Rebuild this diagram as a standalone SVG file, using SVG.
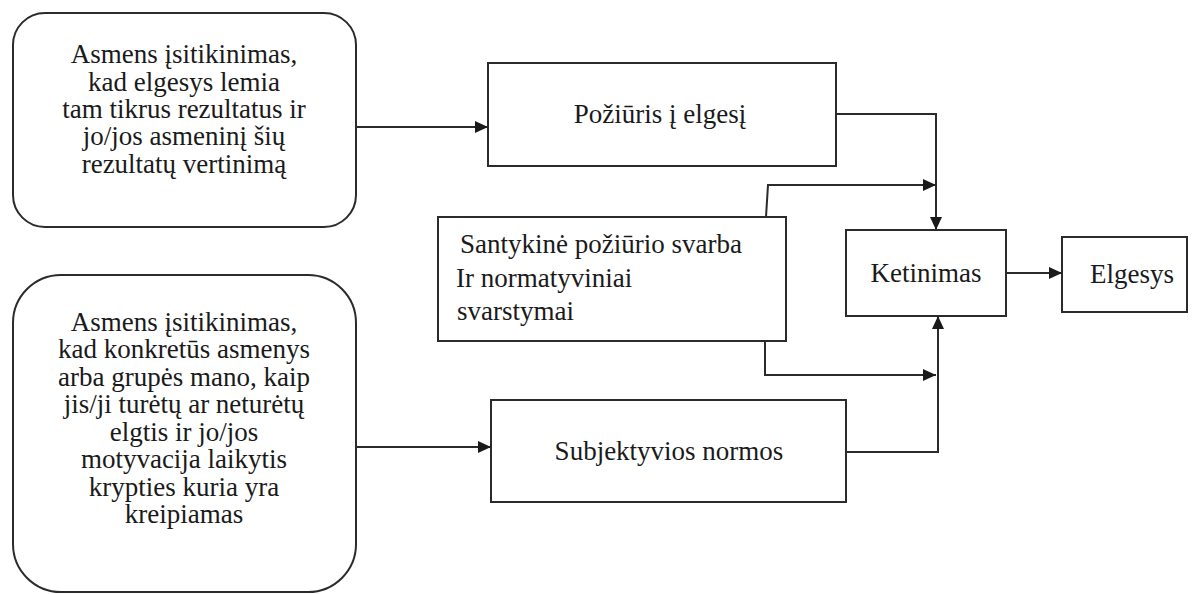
<svg xmlns="http://www.w3.org/2000/svg" width="1197" height="594" viewBox="0 0 1197 594">
  <style>
    .box { fill: #ffffff; stroke: #2b2b2b; stroke-width: 2; }
    .lbl { font-size: 27px; fill: #1a1a1a; }
    .mid { text-anchor: middle; }
    .wire { fill: none; stroke: #2b2b2b; stroke-width: 2; }
  </style>
  <defs>
    <marker id="arrow" markerWidth="14" markerHeight="12" refX="13" refY="6" orient="auto" markerUnits="userSpaceOnUse">
      <path d="M0,0 L13,6 L0,12 z" fill="#1a1a1a"/>
    </marker>
  </defs>
  <rect width="1197" height="594" fill="#ffffff"/>

  <g font-family="Liberation Serif, Tinos, DejaVu Serif, serif">
  <g id="belief-outcomes">
    <rect class="box" x="13" y="13" width="343" height="214" rx="32" ry="32"/>
    <text class="lbl mid" x="184" y="63">Asmens įsitikinimas,</text>
    <text class="lbl mid" x="184" y="91">kad elgesys lemia</text>
    <text class="lbl mid" x="184" y="118">tam tikrus rezultatus ir</text>
    <text class="lbl mid" x="184" y="145">jo/jos asmeninį šių</text>
    <text class="lbl mid" x="184" y="173">rezultatų vertinimą</text>
  </g>

  <g id="belief-referents">
    <rect class="box" x="13" y="275" width="343" height="317" rx="48" ry="48"/>
    <text class="lbl mid" x="184" y="331">Asmens įsitikinimas,</text>
    <text class="lbl mid" x="184" y="358">kad konkretūs asmenys</text>
    <text class="lbl mid" x="184" y="386">arba grupės mano, kaip</text>
    <text class="lbl mid" x="184" y="413">jis/ji turėtų ar neturėtų</text>
    <text class="lbl mid" x="184" y="441">elgtis ir jo/jos</text>
    <text class="lbl mid" x="184" y="468">motyvacija laikytis</text>
    <text class="lbl mid" x="184" y="496">krypties kuria yra</text>
    <text class="lbl mid" x="184" y="523">kreipiamas</text>
  </g>

  <g id="attitude">
    <rect class="box" x="488" y="63" width="348" height="103"/>
    <text class="lbl mid" x="660" y="123">Požiūris į elgesį</text>
  </g>

  <g id="weights">
    <rect class="box" x="438" y="217" width="348" height="124"/>
    <text class="lbl" x="460" y="253">Santykinė požiūrio svarba</text>
    <text class="lbl" x="456" y="287">Ir normatyviniai</text>
    <text class="lbl" x="457" y="320">svarstymai</text>
  </g>

  <g id="subjective-norms">
    <rect class="box" x="491" y="400" width="355" height="102"/>
    <text class="lbl mid" x="669" y="460">Subjektyvios normos</text>
  </g>

  <g id="intention">
    <rect class="box" x="846" y="230" width="160" height="86"/>
    <text class="lbl mid" x="926" y="282">Ketinimas</text>
  </g>

  <g id="behaviour">
    <rect class="box" x="1062" y="237" width="125" height="75"/>
    <text class="lbl mid" x="1132" y="283">Elgesys</text>
  </g>
  </g>

  <g id="connectors">
    <path class="wire" d="M356,127 L488,127" marker-end="url(#arrow)"/>
    <path class="wire" d="M356,447 L491,447" marker-end="url(#arrow)"/>
    <path class="wire" d="M836,114 L936,114 L936,230" marker-end="url(#arrow)"/>
    <path class="wire" d="M766,217 L768,185 L936,185" marker-end="url(#arrow)"/>
    <path class="wire" d="M765,341 L765,375 L936,375" marker-end="url(#arrow)"/>
    <path class="wire" d="M846,452 L938,452 L938,316" marker-end="url(#arrow)"/>
    <path class="wire" d="M1006,273 L1062,273" marker-end="url(#arrow)"/>
  </g>
</svg>
